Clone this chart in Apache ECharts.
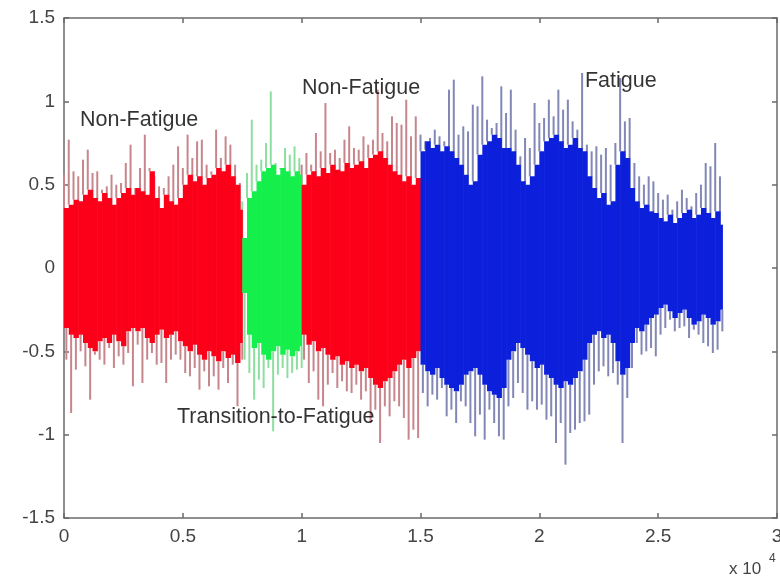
<!DOCTYPE html>
<html>
<head>
<meta charset="utf-8">
<script src="https://cdn.jsdelivr.net/npm/echarts@6/dist/echarts.min.js"></script>
<style>
  html, body { margin: 0; padding: 0; background: #fff; }
  #chart { width: 780px; height: 579px; }
</style>
</head>
<body>
<div id="chart"></div>
<script>
// spacing of the read-off columns, in samples
const step = 200;

// segment boundaries (sample index)
const nf1Start = 0, nf1End = 7500;
const transStart = 7500, transEnd = 10000;
const nf2Start = 10000, nf2End = 15000;
const fatStart = 15000, fatEnd = 27700;

// Non-Fatigue (first block): spike peaks, troughs, and solid core envelope
const nf1Hi = [0.56,0.77,0.58,0.55,0.65,0.71,0.57,0.58,0.47,0.49, 0.56,0.50,0.51,0.63,0.74,0.44,0.60,0.80,0.60,0.55,
  0.49,0.48,0.55,0.62,0.73,0.60,0.80,0.66,0.76,0.77, 0.62,0.58,0.83,0.66,0.79,0.74,0.62,0.51];
const nf1Lo = [-0.55,-0.87,-0.61,-0.50,-0.59,-0.79,-0.52,-0.55,-0.58,-0.48, -0.60,-0.53,-0.58,-0.51,-0.71,-0.46,-0.69,-0.55,-0.51,-0.58,
  -0.57,-0.69,-0.55,-0.52,-0.55,-0.63,-0.65,-0.60,-0.73,-0.62, -0.71,-0.65,-0.73,-0.60,-0.69,-0.58,-0.83,-0.55];
const nf1CoreHi = [0.36,0.38,0.41,0.40,0.44,0.47,0.42,0.40,0.45,0.42, 0.38,0.42,0.45,0.48,0.44,0.48,0.46,0.44,0.58,0.42,
  0.36,0.44,0.40,0.38,0.42,0.50,0.56,0.52,0.55,0.50, 0.54,0.56,0.60,0.58,0.62,0.55,0.50,0.35];
const nf1CoreLo = [-0.36,-0.40,-0.42,-0.40,-0.45,-0.48,-0.50,-0.44,-0.42,-0.45, -0.40,-0.44,-0.47,-0.38,-0.36,-0.38,-0.36,-0.42,-0.45,-0.40,
  -0.37,-0.42,-0.40,-0.38,-0.44,-0.47,-0.50,-0.46,-0.52,-0.55, -0.50,-0.53,-0.56,-0.50,-0.54,-0.52,-0.57,-0.45];

// Transition-to-Fatigue
const transHi = [0.40,0.57,0.89,0.62,0.65,0.75,1.06,0.63,0.59,0.72,0.68,0.73,0.66];
const transLo = [-0.55,-0.63,-0.79,-0.67,-0.72,-0.60,-0.98,-0.64,-0.60,-0.66,-0.63,-0.61,-0.60];
const transCoreHi = [0.18,0.42,0.46,0.52,0.58,0.60,0.62,0.56,0.60,0.58,0.55,0.58,0.56];
const transCoreLo = [-0.15,-0.40,-0.48,-0.45,-0.52,-0.55,-0.50,-0.47,-0.52,-0.49,-0.53,-0.50,-0.47];

// Non-Fatigue (second block)
const nf2Hi = [0.62,0.69,0.62,0.81,0.70,0.99,0.69,0.71,0.66,0.77, 0.85,0.72,0.71,0.79,0.74,0.77,1.07,0.81,0.76,0.91,
  0.87,0.86,1.01,0.79,0.91];
const nf2Lo = [-0.55,-0.69,-0.62,-0.79,-0.83,-0.70,-0.63,-0.72,-0.68,-0.74, -0.75,-0.70,-0.79,-0.74,-0.93,-0.85,-1.05,-0.83,-0.89,-0.80,
  -0.83,-0.90,-1.03,-0.97,-1.02];
const nf2CoreHi = [0.50,0.56,0.58,0.55,0.60,0.57,0.62,0.59,0.58,0.63, 0.60,0.62,0.64,0.60,0.66,0.68,0.70,0.66,0.62,0.58,
  0.56,0.52,0.55,0.50,0.54];
const nf2CoreLo = [-0.40,-0.46,-0.44,-0.50,-0.48,-0.52,-0.55,-0.53,-0.58,-0.56, -0.60,-0.58,-0.62,-0.60,-0.66,-0.70,-0.72,-0.68,-0.66,-0.62,
  -0.58,-0.55,-0.60,-0.54,-0.50];

// Fatigue
const fatHi = [0.80,0.71,0.78,0.83,0.79,0.76,1.07,1.13,0.80,0.85, 0.82,0.98,0.97,1.15,0.89,0.84,0.87,1.09,0.93,1.07,
  0.83,0.67,0.78,0.72,0.99,0.87,0.90,1.01,0.91,1.07, 0.95,1.01,0.88,0.83,1.17,0.74,0.70,0.73,0.68,0.72,
  0.62,0.75,1.14,0.88,0.90,0.63,0.55,0.50,0.55,0.52, 0.45,0.41,0.44,0.35,0.40,0.47,0.42,0.37,0.45,0.50,
  0.63,0.61,0.75,0.55];
const fatLo = [-0.75,-0.83,-0.76,-0.79,-0.72,-0.89,-0.85,-0.93,-0.80,-0.83, -0.93,-1.01,-0.88,-1.03,-0.85,-0.93,-1.01,-1.03,-0.83,-0.78,
  -0.69,-0.75,-0.85,-0.80,-0.85,-0.82,-0.91,-0.89,-1.05,-0.93, -1.18,-0.99,-0.97,-0.93,-0.92,-0.88,-0.70,-0.62,-0.59,-0.65,
  -0.63,-0.70,-1.05,-0.78,-0.60,-0.45,-0.52,-0.50,-0.48,-0.53, -0.40,-0.36,-0.31,-0.38,-0.36,-0.35,-0.42,-0.37,-0.40,-0.45,
  -0.47,-0.51,-0.49,-0.38];
const fatCoreHi = [0.70,0.76,0.72,0.74,0.70,0.73,0.70,0.66,0.62,0.56, 0.50,0.52,0.68,0.74,0.76,0.80,0.78,0.72,0.72,0.70,
  0.62,0.52,0.50,0.55,0.62,0.70,0.76,0.78,0.80,0.76, 0.72,0.74,0.78,0.72,0.70,0.55,0.48,0.42,0.45,0.38,
  0.40,0.62,0.70,0.66,0.48,0.40,0.36,0.38,0.34,0.33, 0.30,0.28,0.32,0.27,0.30,0.33,0.35,0.30,0.32,0.36,
  0.33,0.30,0.34,0.26];
const fatCoreLo = [-0.58,-0.62,-0.64,-0.60,-0.66,-0.70,-0.72,-0.74,-0.70,-0.64, -0.62,-0.60,-0.64,-0.70,-0.74,-0.76,-0.78,-0.72,-0.55,-0.50,
  -0.45,-0.48,-0.52,-0.56,-0.60,-0.58,-0.64,-0.66,-0.70,-0.72, -0.68,-0.70,-0.66,-0.62,-0.55,-0.45,-0.40,-0.38,-0.42,-0.40,
  -0.45,-0.56,-0.64,-0.60,-0.45,-0.36,-0.38,-0.34,-0.30,-0.28, -0.24,-0.22,-0.26,-0.30,-0.27,-0.25,-0.30,-0.34,-0.32,-0.28,
  -0.30,-0.34,-0.32,-0.25];

// axis ticks
const xTicks = [0, 5000, 10000, 15000, 20000, 25000, 30000];
const yTicks = [-1.5, -1, -0.5, 0, 0.5, 1, 1.5];

// text annotations
const noteText = ['Non-Fatigue', 'Non-Fatigue', 'Fatigue', 'Transition-to-Fatigue'];
const noteX = [673, 10010, 21920, 4754];
const noteY = [0.89, 1.08, 1.12, -0.895];

const font = '"Liberation Sans", Arial, Helvetica, sans-serif';

function makeRows(start, hi, lo, coreHi, coreLo) {
  return hi.map((h, i) => [start + i * step, h, lo[i], coreHi[i], coreLo[i]]);
}

// pale thin lines: the peaks sticking out of the solid core
function spikeSeries(rows, color) {
  return {
    type: 'custom',
    z: 2,
    silent: true,
    data: rows,
    encode: { x: 0, y: [1, 2] },
    renderItem: (params, api) => {
      const x = api.value(0);
      const xb = x + step / 2;
      const a = api.coord([x, api.value(1)]);
      const b = api.coord([x, api.value(3)]);
      const c = api.coord([xb, api.value(2)]);
      const d = api.coord([xb, api.value(4)]);
      const st = { stroke: color, lineWidth: 2 };
      return {
        type: 'group',
        children: [
          { type: 'line', shape: { x1: a[0], y1: a[1], x2: b[0], y2: b[1] }, style: st },
          { type: 'line', shape: { x1: c[0], y1: c[1], x2: d[0], y2: d[1] }, style: st }
        ]
      };
    }
  };
}

// saturated core block
function coreSeries(rows, end, color) {
  return {
    type: 'custom',
    z: 3,
    silent: true,
    data: rows,
    encode: { x: 0, y: [3, 4] },
    renderItem: (params, api) => {
      const x = api.value(0);
      const x2 = Math.min(x + step, end);
      const p1 = api.coord([x, api.value(3)]);
      const p2 = api.coord([x2, api.value(4)]);
      return {
        type: 'rect',
        shape: { x: p1[0], y: p1[1], width: p2[0] - p1[0] + 0.6, height: p2[1] - p1[1] },
        style: { fill: color }
      };
    }
  };
}

const nf1Rows = makeRows(nf1Start, nf1Hi, nf1Lo, nf1CoreHi, nf1CoreLo);
const transRows = makeRows(transStart, transHi, transLo, transCoreHi, transCoreLo);
const nf2Rows = makeRows(nf2Start, nf2Hi, nf2Lo, nf2CoreHi, nf2CoreLo);
const fatRows = makeRows(fatStart, fatHi, fatLo, fatCoreHi, fatCoreLo);

const axisLine = { show: true, onZero: false, lineStyle: { color: '#6a6a6a', width: 1.5 } };
const axisTick = { show: true, inside: true, length: 5, lineStyle: { color: '#6a6a6a', width: 1.5 } };

const xBase = { type: 'value', min: xTicks[0], max: xTicks[xTicks.length - 1], interval: xTicks[1] - xTicks[0],
  axisLine, axisTick, splitLine: { show: false } };
const yBase = { type: 'value', min: yTicks[0], max: yTicks[yTicks.length - 1], interval: yTicks[1] - yTicks[0],
  axisLine, axisTick, splitLine: { show: false } };

const chart = echarts.init(document.getElementById('chart'), null, { renderer: 'canvas' });

chart.setOption({
  animation: false,
  backgroundColor: '#fff',
  grid: { left: 64, right: 3, top: 18, bottom: 61, containLabel: false, outerBoundsMode: 'none' },
  xAxis: [
    Object.assign({}, xBase, {
      position: 'bottom',
      axisLabel: { margin: 9, color: '#444', fontSize: 19, fontFamily: font,
        formatter: v => String(v / 10000) }
    }),
    Object.assign({}, xBase, { position: 'top', axisLabel: { show: false } })
  ],
  yAxis: [
    Object.assign({}, yBase, {
      position: 'left',
      axisLabel: { margin: 9, color: '#444', fontSize: 19, fontFamily: font }
    }),
    Object.assign({}, yBase, { position: 'right', axisLabel: { show: false } })
  ],
  series: [
    spikeSeries(nf1Rows, '#c7868c'),
    spikeSeries(transRows, '#8ddf9f'),
    spikeSeries(nf2Rows, '#c7868c'),
    spikeSeries(fatRows, '#8287b6'),
    coreSeries(nf1Rows, nf1End, '#fd0019'),
    coreSeries(transRows, transEnd, '#14ef4c'),
    coreSeries(nf2Rows, nf2End, '#fd0019'),
    coreSeries(fatRows, fatEnd, '#0c20dc'),
    {
      type: 'scatter',
      z: 5,
      silent: true,
      symbolSize: 0,
      data: noteText.map((t, i) => ({ value: [noteX[i], noteY[i]], name: t })),
      label: {
        show: true,
        position: 'right',
        distance: 0,
        formatter: p => p.name,
        color: '#000',
        fontSize: 21.5,
        fontFamily: font
      }
    }
  ],
  graphic: [
    { type: 'text', left: 729, top: 561, style: { text: 'x 10', fontSize: 17, fontFamily: font, fill: '#444' } },
    { type: 'text', left: 769, top: 553, style: { text: '4', fontSize: 12, fontFamily: font, fill: '#444' } }
  ]
});
</script>
</body>
</html>
